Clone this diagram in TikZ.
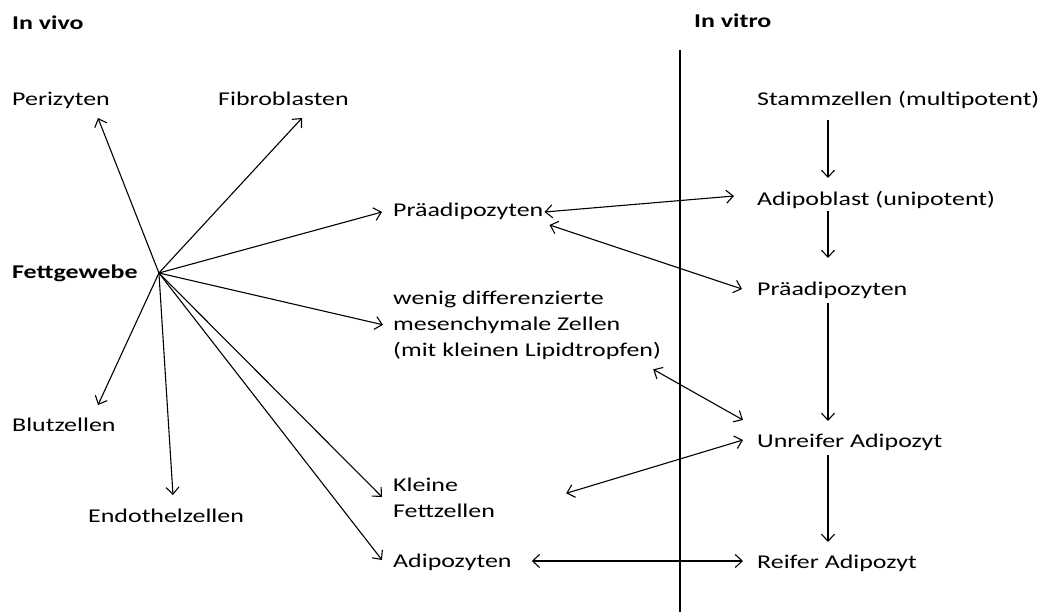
\documentclass[tikz,border=0pt]{standalone}
\usepackage{fontspec}
\setmainfont[FakeStretch=1.33]{Carlito}
\usetikzlibrary{arrows.meta}

\begin{document}
\begin{tikzpicture}
    [ x=1pt, y=-1pt
    , every node/.style={inner sep=0pt, anchor=base west, font=\fontsize{19.5pt}{26pt}\selectfont}
    , head/.style={font=\fontsize{19.5pt}{26pt}\selectfont\bfseries}
    , pf/.style={line width=1.1pt, -{Straight Barb[length=7pt,width=13pt]}}
    , dpf/.style={line width=1.1pt, {Straight Barb[length=7pt,width=13pt]}-{Straight Barb[length=7pt,width=13pt]}}
    ]

    \useasboundingbox (0,0) rectangle (1046,612);

    % in vivo
    \node [head] (vivo) at (12,30)  {In vivo};
    \node [head] (fett) at (12,279) {Fettgewebe};
    \node (peri)   at (12,106)  {Perizyten};
    \node (fibro)  at (218,106) {Fibroblasten};
    \node (blut)   at (12,431)  {Blutzellen};
    \node (endo)   at (88,522)  {Endothelzellen};
    \node (prae)   at (393,217) {Präadipozyten};
    \node [align=left] (wenig) at (393,356)
        {wenig differenzierte\\mesenchymale Zellen\\(mit kleinen Lipidtropfen)};
    \node [align=left] (klein) at (393,517) {Kleine\\Fettzellen};
    \node (adipoz) at (393,567) {Adipozyten};

    % in vitro
    \node [head] (vitro) at (694,28) {In vitro};
    \node (stamm)  at (757,106) {Stammzellen (multipotent)};
    \node (blast)  at (757,206) {Adipoblast (unipotent)};
    \node (praeb)  at (757,295) {Präadipozyten};
    \node (unreif) at (757,447) {Unreifer Adipozyt};
    \node (reif)   at (757,568) {Reifer Adipozyt};

    \coordinate (grenzeo) at (680,50);
    \coordinate (grenzeu) at (680,612);
    \draw [line width=2pt] (grenzeo) -- (grenzeu);

    \coordinate (hub) at ([shift={(21pt,6pt)}]fett.base east);

    \draw [pf] (hub) -- ([shift={(-12pt,-12pt)}]peri.base east);
    \draw [pf] (hub) -- ([shift={(84pt,-12pt)}]fibro.base west);
    \draw [pf] (hub) -- ([shift={(86pt,26pt)}]blut.base west);
    \draw [pf] (hub) -- ([shift={(85pt,27pt)}]endo.base west);
    \draw [pf] (hub) -- ([shift={(-11pt,5pt)}]prae.base west);
    \draw [pf] (hub) -- ([xshift=-10pt]wenig.west);
    \draw [pf] (hub) -- ([shift={(-11pt,20pt)}]klein.base west);
    \draw [pf] (hub) -- ([shift={(-11pt,7pt)}]adipoz.base west);

    \draw [pf] ([shift={(71pt,-14pt)}]stamm.base west) -- ([shift={(71pt,28pt)}]blast.base west);
    \draw [pf] ([shift={(71pt,-5pt)}]blast.base west)  -- ([shift={(71pt,37pt)}]praeb.base west);
    \draw [pf] ([shift={(71pt,-8pt)}]praeb.base west)  -- ([shift={(71pt,26pt)}]unreif.base west);
    \draw [pf] ([shift={(71pt,-8pt)}]unreif.base west) -- ([shift={(71pt,26pt)}]reif.base west);

    \draw [dpf] ([shift={(1pt,5pt)}]prae.base east)   -- ([shift={(-23pt,10pt)}]blast.base west);
    \draw [dpf] ([shift={(6pt,-8pt)}]prae.base east)  -- ([shift={(-15pt,6pt)}]praeb.base west);
    \draw [dpf] ([shift={(-8pt,-10pt)}]wenig.south east) -- ([shift={(-14pt,27pt)}]unreif.base west);
    \draw [dpf] ([shift={(71pt,4pt)}]klein.east)     -- ([shift={(-14pt,7pt)}]unreif.base west);
    \draw [dpf] ([shift={(20pt,6pt)}]adipoz.base east) -- ([shift={(-14pt,7pt)}]reif.base west);

\end{tikzpicture}
\end{document}
